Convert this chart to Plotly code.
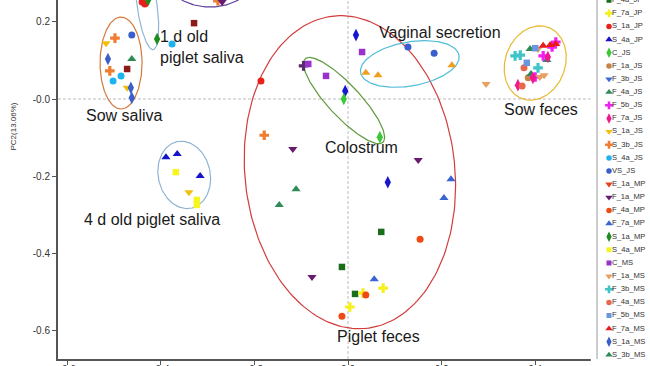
import numpy as np
import plotly.graph_objects as go

# ---------------- data (PC1, PC2 coordinates) ----------------
groups = ["C_JP", "F_1a_JP", "F_3b_JP", "F_4a_JP", "F_7a_JP", "S_1a_JP", "S_4a_JP",
          "C_JS", "F_1a_JS", "F_3b_JS", "F_4a_JS", "F_5b_JS", "F_7a_JS", "S_1a_JS",
          "S_3b_JS", "S_4a_JS", "VS_JS", "E_1a_MP", "F_1a_MP", "F_4a_MP", "F_7a_MP",
          "S_1a_MP", "S_4a_MP", "C_MS", "F_1a_MS", "F_3b_MS", "F_4a_MS", "F_5b_MS",
          "F_7a_MS", "S_1a_MS", "S_3b_MS", "VS_MS"]

point_group = [
    "C_JP", "C_JP", "C_JP",
    "F_1a_JP", "F_1a_JP",
    "F_3b_JP",
    "F_4a_JP", "F_4a_JP", "F_4a_JP",
    "F_7a_JP", "F_7a_JP", "F_7a_JP",
    "S_1a_JP", "S_1a_JP", "S_1a_JP",
    "S_4a_JP", "S_4a_JP", "S_4a_JP",
    "C_JS", "C_JS",
    "F_1a_JS",
    "F_4a_JS", "F_4a_JS", "F_4a_JS", "F_4a_JS", "F_4a_JS",
    "F_5b_JS", "F_5b_JS", "F_5b_JS", "F_5b_JS",
    "F_7a_JS", "F_7a_JS", "F_7a_JS",
    "S_1a_JS", "S_1a_JS", "S_1a_JS",
    "S_3b_JS", "S_3b_JS", "S_3b_JS", "S_3b_JS",
    "S_4a_JS", "S_4a_JS", "S_4a_JS",
    "VS_JS", "VS_JS", "VS_JS",
    "F_1a_MP", "F_1a_MP", "F_1a_MP", "F_1a_MP",
    "F_4a_MP", "F_4a_MP", "F_4a_MP",
    "F_7a_MP", "F_7a_MP", "F_7a_MP",
    "S_1a_MP", "S_1a_MP",
    "S_4a_MP", "S_4a_MP", "S_4a_MP",
    "C_MS", "C_MS", "C_MS",
    "F_1a_MS", "F_1a_MS", "F_1a_MS", "F_1a_MS",
    "F_3b_MS", "F_3b_MS", "F_3b_MS",
    "F_4a_MS", "F_4a_MS",
    "F_5b_MS", "F_5b_MS",
    "F_7a_MS", "F_7a_MS", "F_7a_MS",
    "S_1a_MS", "S_1a_MS", "S_1a_MS",
    "S_3b_MS",
    "VS_MS", "VS_MS", "VS_MS",
]
pc1 = [
    0.017, -0.006, 0.085,
    -0.472, -0.329,
    -0.095,
    0.071, -0.013, 0.015,
    0.075, 0.032, 0.004,
    -0.440, -0.434, -0.186,
    -0.389, -0.365, -0.316,
    -0.009, 0.068,
    0.385,
    -0.111, -0.147, 0.389, 0.425, 0.391,
    0.444, 0.436, 0.417, 0.400,
    0.427, 0.395, 0.363,
    -0.340, -0.517, -0.472,
    -0.498, -0.509, -0.179, -0.278,
    -0.502, -0.485, -0.376,
    0.128, 0.184, -0.462,
    -0.118, 0.150, -0.077, -0.269,
    0.154, 0.038, -0.013,
    0.220, 0.205, 0.056,
    -0.427, -0.408,
    -0.368, -0.323, -0.323,
    0.030, -0.047, -0.085,
    0.406, 0.410, 0.419, 0.295,
    0.357, 0.368, 0.406,
    0.376, 0.372,
    0.400, 0.382,
    0.417, 0.432, 0.444,
    -0.513, -0.464, -0.462,
    -0.462,
    0.038, 0.064, 0.222,
]
pc2 = [
    0.166, 0.021, -0.216,
    0.078, 0.197,
    0.086,
    -0.345, -0.436, -0.506,
    -0.491, -0.504, -0.540,
    0.252, 0.247, 0.047,
    -0.151, -0.143, -0.200,
    0.000, -0.099,
    0.055,
    -0.234, -0.275, 0.130, 0.101, 0.065,
    0.148, 0.135, 0.112, 0.057,
    0.109, 0.055, 0.036,
    -0.242, 0.145, 0.029,
    0.158, 0.073, -0.094, 0.255,
    0.047, 0.060, 0.143,
    0.135, 0.119, 0.166,
    -0.130, -0.158, -0.462, 0.252,
    -0.364, -0.509, -0.564,
    -0.208, -0.257, -0.468,
    0.257, 0.156,
    -0.190, -0.262, -0.275,
    0.122, 0.060, 0.091,
    0.130, 0.057, 0.062, 0.039,
    0.112, 0.114, 0.081,
    0.081, 0.034,
    0.132, 0.094,
    0.138, 0.140, 0.143,
    0.104, 0.029, 0.003,
    0.104,
    0.068, 0.062, 0.088,
]

y_tick_vals = [0.2, 0.0, -0.2, -0.4, -0.6]
y_tick_text = ["0.2", "-0.0", "-0.2", "-0.4", "-0.6"]
x_tick_vals = [-0.6, -0.4, -0.2, 0.0, 0.2, 0.4]
x_tick_text = ["-0.6", "-0.4", "-0.2", "0.0", "0.2", "0.4"]

cluster_labels = ["1 d old<br>piglet saliva", "Sow saliva", "4 d old piglet saliva",
                  "Colostrum", "Vaginal secretion", "Sow feces", "Piglet feces"]

# ---------------- styles ----------------
group_color = {
    "C_JP": "#1616d0", "F_1a_JP": "#8b1a1a", "F_3b_JP": "#5a2a6a", "F_4a_JP": "#1a6e1a",
    "F_7a_JP": "#f5f01e", "S_1a_JP": "#e8201a", "S_4a_JP": "#1414c8", "C_JS": "#38c838",
    "F_1a_JS": "#c88444", "F_3b_JS": "#3a6ad8", "F_4a_JS": "#2e8b57", "F_5b_JS": "#f020f0",
    "F_7a_JS": "#f01890", "S_1a_JS": "#f0c010", "S_3b_JS": "#f07c30", "S_4a_JS": "#1cb4f0",
    "VS_JS": "#3a5fcd", "E_1a_MP": "#e8401a", "F_1a_MP": "#6a1a6e", "F_4a_MP": "#f04a14",
    "F_7a_MP": "#3a64d2", "S_1a_MP": "#1e8c1e", "S_4a_MP": "#f5f522", "C_MS": "#9932cc",
    "F_1a_MS": "#e8a060", "F_3b_MS": "#40c4c8", "F_4a_MS": "#e8664c", "F_5b_MS": "#6a96e0",
    "F_7a_MS": "#e81a1a", "S_1a_MS": "#3a5fcd", "S_3b_MS": "#2e8b57", "VS_MS": "#f0a020",
}
group_symbol = {
    "C_JP": "diamond-tall", "F_1a_JP": "square", "F_3b_JP": "cross", "F_4a_JP": "square",
    "F_7a_JP": "cross", "S_1a_JP": "circle", "S_4a_JP": "triangle-up", "C_JS": "diamond-tall",
    "F_1a_JS": "circle", "F_3b_JS": "triangle-down", "F_4a_JS": "triangle-up", "F_5b_JS": "cross",
    "F_7a_JS": "diamond-tall", "S_1a_JS": "triangle-down", "S_3b_JS": "cross", "S_4a_JS": "circle",
    "VS_JS": "circle", "E_1a_MP": "triangle-down", "F_1a_MP": "triangle-down", "F_4a_MP": "circle",
    "F_7a_MP": "triangle-up", "S_1a_MP": "diamond-tall", "S_4a_MP": "square", "C_MS": "square",
    "F_1a_MS": "triangle-down", "F_3b_MS": "cross", "F_4a_MS": "circle", "F_5b_MS": "square",
    "F_7a_MS": "triangle-up", "S_1a_MS": "diamond-tall", "S_3b_MS": "triangle-up", "VS_MS": "triangle-up",
}
symbol_size = {"circle": 7, "square": 6.5, "triangle-up": 8, "triangle-down": 8,
               "cross": 8, "diamond-tall": 9}

# ---------------- geometry ----------------
W, H = 650, 366
ML = 58
PLOT_R = 597
PLOT_B = 359
X_RANGE = [-0.6197, 0.532]
Y_RANGE = [-0.675, 0.2571]
SX = (PLOT_R - ML) / (X_RANGE[1] - X_RANGE[0])
SY = PLOT_B / (Y_RANGE[1] - Y_RANGE[0])
x_dom_r = (PLOT_R - ML) / (W - ML)
y_dom_b = (H - PLOT_B) / H

FONT = "Arial, Liberation Sans, sans-serif"

fig = go.Figure()

# cluster ellipses: centre (data), semi-axes (px), rotation (deg), colour
ellipses = [
    (-0.485, 0.0935, 21, 46, 0, "#d4783c"),
    (-0.4295, 0.244, 10, 45, -8, "#90b4d4"),
    (-0.295, 0.322, 45, 32, 0, "#5a3c9c"),
    (0.004, -0.190, 105, 157, -6, "#d23c3c"),
    (-0.0085, -0.004, 57, 16, 47, "#5f9a3c"),
    (0.132, 0.091, 50, 22, -10, "#50bcd8"),
    (0.400, 0.0935, 30, 38, 20, "#e8b830"),
    (-0.350, -0.197, 26, 34, -12, "#90b4d4"),
]
t = np.linspace(0, 2 * np.pi, 200)
for cx, cy, rx, ry, ang, col in ellipses:
    a = np.deg2rad(ang)
    u = rx * np.cos(t)
    v = ry * np.sin(t)
    px = u * np.cos(a) - v * np.sin(a)
    py = u * np.sin(a) + v * np.cos(a)  # screen y (down)
    fig.add_trace(go.Scatter(x=cx + px / SX, y=cy - py / SY, mode="lines",
                             line=dict(color=col, width=1.2), hoverinfo="skip",
                             showlegend=False))

# points
for g in groups:
    xs = [pc1[i] for i in range(len(pc1)) if point_group[i] == g]
    ys = [pc2[i] for i in range(len(pc2)) if point_group[i] == g]
    if not xs:
        continue
    sym = group_symbol[g]
    fig.add_trace(go.Scatter(x=xs, y=ys, mode="markers", name=g, showlegend=False,
                             marker=dict(symbol=sym, size=symbol_size[sym],
                                         color=group_color[g], line=dict(width=0))))

# manual legend on its own axes (pixel-like coordinates)
LEG_TOP = 0.2 - 3 * 13.14
leg_y = [LEG_TOP + 13.14 * i for i in range(len(groups))]
for i, g in enumerate(groups):
    sym = group_symbol[g]
    fig.add_trace(go.Scatter(x=[609], y=[leg_y[i]], xaxis="x2", yaxis="y2", mode="markers",
                             marker=dict(symbol=sym, size=symbol_size[sym] - 1.5,
                                         color=group_color[g], line=dict(width=0)),
                             showlegend=False, hoverinfo="skip", cliponaxis=True))
fig.add_trace(go.Scatter(x=[612] * len(groups), y=leg_y, xaxis="x2", yaxis="y2", mode="text",
                         text=groups, textposition="middle right",
                         textfont=dict(family=FONT, size=7.6, color="#333333"),
                         showlegend=False, hoverinfo="skip", cliponaxis=False))

# dashed zero lines
fig.add_shape(type="line", xref="x", yref="y", x0=X_RANGE[0], x1=X_RANGE[1], y0=0, y1=0,
              line=dict(color="#bdbdbd", width=1, dash="3px,2px"), layer="below")
fig.add_shape(type="line", xref="x", yref="y", x0=0, x1=0, y0=Y_RANGE[0], y1=Y_RANGE[1],
              line=dict(color="#bdbdbd", width=1, dash="3px,2px"), layer="below")
# right frame
fig.add_shape(type="line", xref="paper", yref="paper", x0=x_dom_r, x1=x_dom_r,
              y0=y_dom_b, y1=1, line=dict(color="#9a9a9a", width=1))

# cluster labels
label_pos = [(-0.406, 0.136, "left"), (-0.478, -0.044, "center"), (-0.418, -0.314, "center"),
             (0.029, -0.127, "center"), (0.197, 0.174, "center"), (0.412, -0.026, "center"),
             (0.066, -0.616, "center")]
for txt, (lx, ly, anc) in zip(cluster_labels, label_pos):
    fig.add_annotation(x=lx, y=ly, xref="x", yref="y", text=txt, showarrow=False,
                       xanchor=anc, yanchor="middle", align="left",
                       font=dict(family=FONT, size=16, color="#1a1a1a"))

# y-axis title
fig.add_annotation(x=(6 - ML) / (W - ML), y=(H - 127) / H, xref="paper", yref="paper",
                   text="PC2(13.06%)", textangle=-90, showarrow=False,
                   font=dict(family=FONT, size=8, color="#333333"))

fig.update_layout(
    width=W, height=H,
    margin=dict(l=ML, r=0, t=0, b=0, autoexpand=False),
    paper_bgcolor="white", plot_bgcolor="white",
    showlegend=False,
    xaxis=dict(domain=[0, x_dom_r], range=X_RANGE, showgrid=False, zeroline=False,
               showline=True, linecolor="#555555", linewidth=2, ticks="outside",
               ticklen=4, tickcolor="#555555", tickvals=x_tick_vals, ticktext=x_tick_text,
               tickfont=dict(family=FONT, size=10, color="#333333"), anchor="y",
               automargin=False, ticklabelstandoff=-4),
    yaxis=dict(domain=[y_dom_b, 1], range=Y_RANGE, showgrid=False, zeroline=False,
               showline=True, linecolor="#555555", linewidth=2, ticks="outside",
               ticklen=4, tickcolor="#555555", tickvals=y_tick_vals, ticktext=y_tick_text,
               tickfont=dict(family=FONT, size=10, color="#333333"), anchor="x",
               automargin=False),
    xaxis2=dict(domain=[0.9, 1], range=[ML + 0.9 * (W - ML), W], visible=False,
                anchor="y2", fixedrange=True),
    yaxis2=dict(domain=[0, 1], range=[H, 0], visible=False, anchor="x2", fixedrange=True),
)

fig.write_html("out.html",
               config={"displayModeBar": False},
               post_script="document.body.style.margin='0px';"
                           "document.body.style.overflow='hidden';")
